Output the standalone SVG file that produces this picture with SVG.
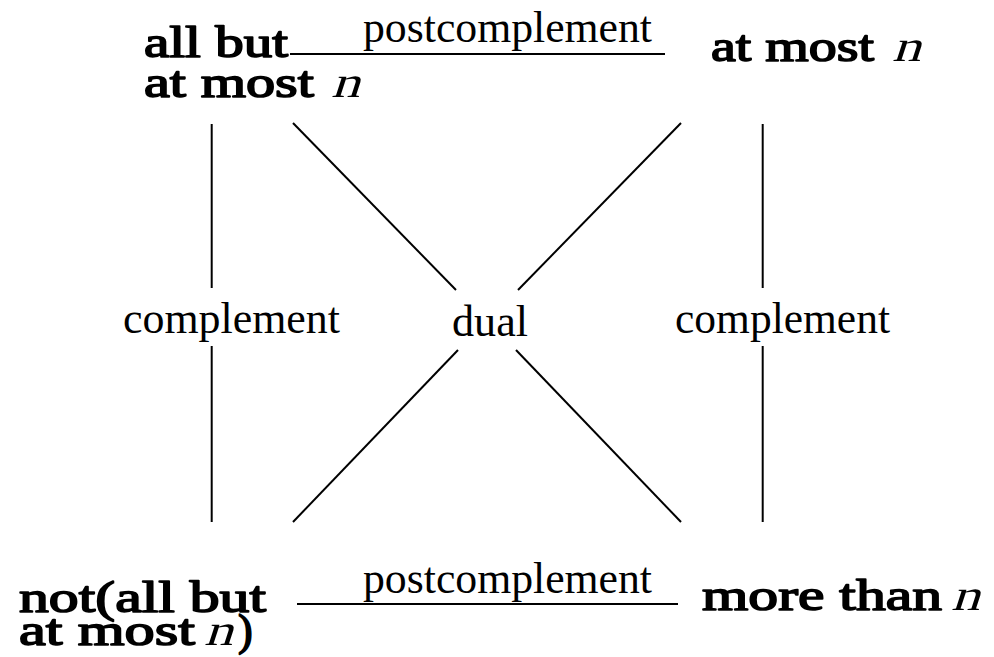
<svg xmlns="http://www.w3.org/2000/svg" width="994" height="657" viewBox="0 0 994 657">
<style>
.b{font-family:"Liberation Serif","Times New Roman",serif;font-size:44px;fill:#000;stroke:#000;stroke-width:1.6;stroke-linejoin:round}
.r{font-family:"Liberation Serif","Times New Roman",serif;font-size:44px;fill:#000}
.n{font-family:"Liberation Serif","Times New Roman",serif;font-size:44px;fill:#000}
.c line{stroke:#000;stroke-width:2;fill:none}
</style>
<rect width="994" height="657" fill="#fff"/>
<g id="connectors" class="c">
<line x1="290" y1="54" x2="665" y2="54"/>
<line x1="297" y1="604" x2="678" y2="604"/>
<line x1="211.7" y1="124" x2="211.7" y2="288"/>
<line x1="211.7" y1="346" x2="211.7" y2="522"/>
<line x1="762.7" y1="124" x2="762.7" y2="288"/>
<line x1="762.7" y1="346" x2="762.7" y2="522"/>
<line x1="293" y1="123" x2="456" y2="290"/>
<line x1="516" y1="350" x2="681" y2="522"/>
<line x1="681" y1="123" x2="518" y2="290"/>
<line x1="458" y1="350" x2="293" y2="522"/>
</g>
<g id="labels">
<text class="r" x="363" y="42" textLength="289" lengthAdjust="spacingAndGlyphs">postcomplement</text>
<text class="r" x="363" y="593" textLength="289" lengthAdjust="spacingAndGlyphs">postcomplement</text>
<text class="r" x="123" y="333" textLength="217" lengthAdjust="spacingAndGlyphs">complement</text>
<text class="r" x="452" y="336" textLength="76" lengthAdjust="spacingAndGlyphs">dual</text>
<text class="r" x="675" y="333" textLength="215" lengthAdjust="spacingAndGlyphs">complement</text>
</g>
<g id="n1">
<text class="b" x="144" y="57" textLength="144" lengthAdjust="spacingAndGlyphs">all but</text>
<text class="b" x="144" y="97" textLength="170" lengthAdjust="spacingAndGlyphs">at most</text>
<text class="n" transform="translate(331,97) scale(1.3,1) skewX(-14)">n</text>
</g>
<g id="n2">
<text class="b" x="711" y="61" textLength="163" lengthAdjust="spacingAndGlyphs">at most</text>
<text class="n" transform="translate(892,61) scale(1.3,1) skewX(-14)">n</text>
</g>
<g id="n3">
<text class="b" x="19" y="612" textLength="247" lengthAdjust="spacingAndGlyphs">not(all but</text>
<text class="b" x="19" y="645" textLength="176" lengthAdjust="spacingAndGlyphs">at most</text>
<text class="n" transform="translate(204,645) scale(1.3,1) skewX(-14)">n</text>
<text class="b" x="238" y="645">)</text>
</g>
<g id="n4">
<text class="b" x="702" y="610" textLength="240" lengthAdjust="spacingAndGlyphs">more than</text>
<text class="n" transform="translate(951,610) scale(1.3,1) skewX(-14)">n</text>
</g>
</svg>
